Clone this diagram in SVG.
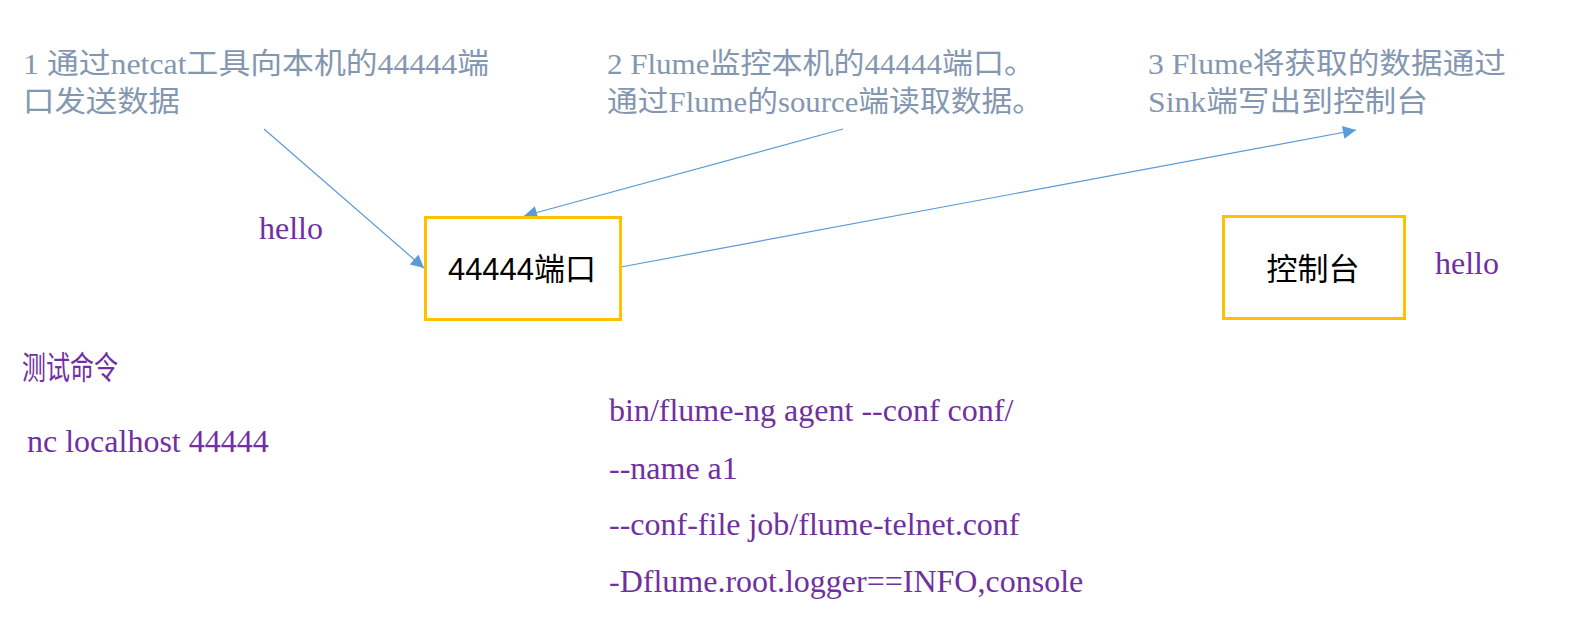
<svg xmlns="http://www.w3.org/2000/svg" width="1583" height="638" viewBox="0 0 1583 638">
<style>
.note{font-family:"Liberation Serif","Noto Sans CJK SC",serif;font-size:29px;fill:#8497B0}
.cmd{font-family:"Liberation Serif","Noto Sans CJK SC",serif;font-size:32px;fill:#7030A0}
.box{fill:#FFFFFF;stroke:#FFC000;stroke-width:3}
.lbl{font-family:"Liberation Sans","Noto Sans CJK SC",sans-serif;font-size:31px;fill:#000000;text-anchor:middle}
.conn{stroke:#5B9BD5;stroke-width:1.2;fill:none;marker-end:url(#arr)}
</style>
<defs>
<marker id="arr" viewBox="0 0 10 10" refX="10" refY="5" markerWidth="14" markerHeight="13" markerUnits="userSpaceOnUse" orient="auto">
<path d="M0,0 L10,5 L0,10 z" fill="#5B9BD5"/>
</marker>
</defs>
<rect width="1583" height="638" fill="#FFFFFF"/>
<g id="notes">
<text class="note" x="23" y="74" textLength="466" lengthAdjust="spacingAndGlyphs">1 通过netcat工具向本机的44444端</text>
<text class="note" x="23" y="112" textLength="157" lengthAdjust="spacingAndGlyphs">口发送数据</text>
<text class="note" x="607" y="74" textLength="428" lengthAdjust="spacingAndGlyphs">2 Flume监控本机的44444端口。</text>
<text class="note" x="607" y="112" textLength="436" lengthAdjust="spacingAndGlyphs">通过Flume的source端读取数据。</text>
<text class="note" x="1148" y="74" textLength="358" lengthAdjust="spacingAndGlyphs">3 Flume将获取的数据通过</text>
<text class="note" x="1148" y="112" textLength="280" lengthAdjust="spacingAndGlyphs">Sink端写出到控制台</text>
</g>
<g id="connectors">
<line class="conn" x1="264" y1="129" x2="424" y2="268"/>
<line class="conn" x1="843" y1="129" x2="524" y2="216"/>
<line class="conn" x1="621" y1="267" x2="1356" y2="130"/>
</g>
<g id="node-port">
<rect class="box" x="425.5" y="217.5" width="195" height="102"/>
<text class="lbl" x="522" y="280">44444端口</text>
</g>
<g id="node-console">
<rect class="box" x="1223.5" y="216.5" width="181" height="102"/>
<text class="lbl" x="1313" y="280">控制台</text>
</g>
<g id="labels">
<text class="cmd" x="259" y="239">hello</text>
<text class="cmd" x="1435" y="274">hello</text>
<text class="cmd" x="22" y="379" font-size="29" textLength="96" lengthAdjust="spacingAndGlyphs">测试命令</text>
<text class="cmd" x="27" y="452">nc localhost 44444</text>
<text class="cmd" x="609" y="421">bin/flume-ng agent --conf conf/</text>
<text class="cmd" x="609" y="479">--name a1</text>
<text class="cmd" x="609" y="535">--conf-file job/flume-telnet.conf</text>
<text class="cmd" x="609" y="592">-Dflume.root.logger==INFO,console</text>
</g>
</svg>
